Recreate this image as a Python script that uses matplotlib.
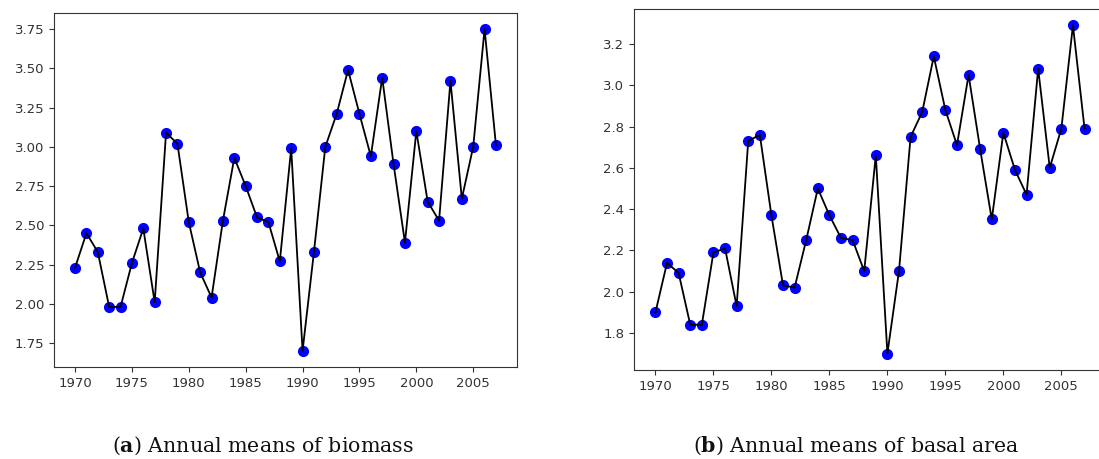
import numpy as np
import matplotlib
matplotlib.use("Agg")
import matplotlib.pyplot as plt

plt.rcParams['mathtext.fontset'] = 'custom'
plt.rcParams['mathtext.rm'] = 'DejaVu Serif'
plt.rcParams['mathtext.bf'] = 'DejaVu Serif:bold'

years = np.arange(1970, 2008)

# annual means of biomass
biomass = [2.23, 2.45, 2.33, 1.98, 1.98, 2.26, 2.48, 2.01, 3.09, 3.02,
           2.52, 2.20, 2.04, 2.53, 2.93, 2.75, 2.55, 2.52, 2.27, 2.99,
           1.70, 2.33, 3.00, 3.21, 3.49, 3.21, 2.94, 3.44, 2.89, 2.39,
           3.10, 2.65, 2.53, 3.42, 2.67, 3.00, 3.75, 3.01]

# annual means of basal area
basal = [1.90, 2.14, 2.09, 1.84, 1.84, 2.19, 2.21, 1.93, 2.73, 2.76,
         2.37, 2.03, 2.02, 2.25, 2.50, 2.37, 2.26, 2.25, 2.10, 2.66,
         1.70, 2.10, 2.75, 2.87, 3.14, 2.88, 2.71, 3.05, 2.69, 2.35,
         2.77, 2.59, 2.47, 3.08, 2.60, 2.79, 3.29, 2.79]

captions = [r"($\mathbf{a}$) Annual means of biomass",
            r"($\mathbf{b}$) Annual means of basal area"]

W, H = 1099, 459
fig = plt.figure(figsize=(W / 100, H / 100), dpi=100)

ax1 = fig.add_axes([54 / W, 1 - 367 / H, (517 - 54) / W, (367 - 13) / H])
ax2 = fig.add_axes([634 / W, 1 - 370 / H, (1106 - 634) / W, (370 - 9) / H])

for ax, vals in [(ax1, biomass), (ax2, basal)]:
    ax.plot(years, vals, 'bo', markersize=7, zorder=2)
    ax.plot(years, vals, 'k-', linewidth=1.3, zorder=3)
    ax.set_xticks([1970, 1975, 1980, 1985, 1990, 1995, 2000, 2005])
    ax.tick_params(labelsize=9.5, colors='#333333')
    for s in ax.spines.values():
        s.set_color('#333333')

ax1.set_yticks([1.75, 2.00, 2.25, 2.50, 2.75, 3.00, 3.25, 3.50, 3.75])
ax1.set_yticklabels(["%.2f" % v for v in ax1.get_yticks()])
ax2.set_yticks([1.8, 2.0, 2.2, 2.4, 2.6, 2.8, 3.0, 3.2])
ax2.set_yticklabels(["%.1f" % v for v in ax2.get_yticks()])

fig.text(112 / W, 1 - 452 / H, captions[0], fontsize=14.8, ha='left', va='baseline',
         family='DejaVu Serif', color='#111111')
fig.text(693 / W, 1 - 452 / H, captions[1], fontsize=14.8, ha='left', va='baseline',
         family='DejaVu Serif', color='#111111')

plt.savefig("out.png", dpi=100)
plt.close()
